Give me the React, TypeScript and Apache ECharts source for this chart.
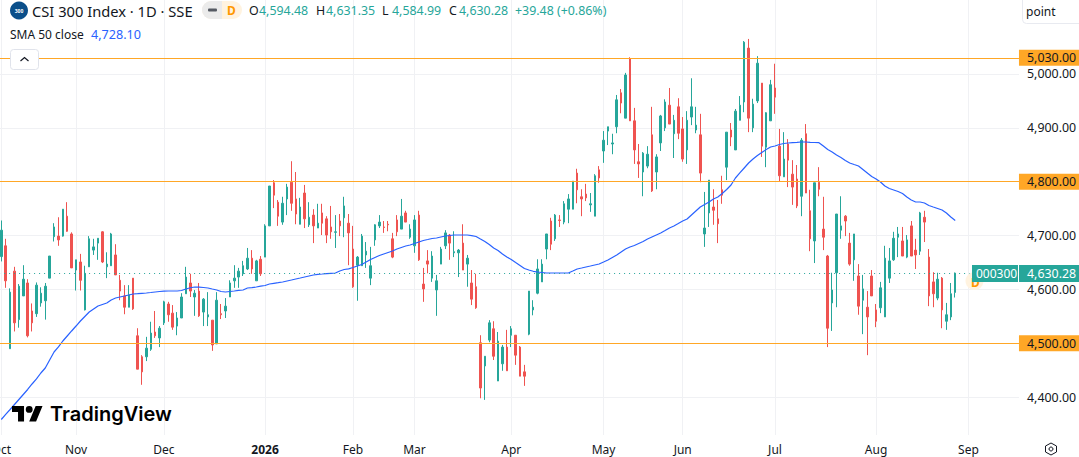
import React, { useEffect, useRef } from "react";
import * as echarts from "echarts";

const opens = [4661,4681,4490,4634,4544,4588,4612,4560,4555,4575,4579,4621,4698,4699,4699,4736,4703,4636,4651,4562,4642,4673,4686,4707,4642,4644,4664,4617,4588,4567,4621,4514,4475,4475,4489,4521,4510,4538,4573,4556,4532,4547,4592,4612,4586,4597,4558,4549,4543,4499,4555,4560,4586,4616,4623,4629,4638,4658,4616,4656,4660,
4718,4798,4762,4725,4768,4799,4768,4721,4779,4720,4738,4714,4742,4731,4716,4706,4727,4733,4723,4675,4645,4644,4664,4621,4692,4718,4716,4721,4694,4729,4712,4742,4697,4681,4738,4610,4653,4621,4599,4647,4681,4701,4668,4668,4686,4647,4612,4605,4501,4458,4506,4527,4430,4462,4493,
4515,4515,4493,4447,4517,4562,4593,4614,4675,4727,4694,4729,4725,4749,4749,4816,4772,4777,4757,4736,4822,4857,4894,4870,4902,4965,4918,5028,4913,4837,4818,4829,4887,4818,4872,4900,4942,4889,4939,4898,4859,4920,4896,4887,4703,4742,4753,4731,4785,4827,4896,4859,4914,
4948,5048,4900,4950,4983,4864,4913,4974,4866,4809,4870,4814,4805,4773,4889,4746,4690,4799,4712,4662,4575,4631,4710,4736,4686,4655,4625,4580,4567,4625,4562,4566,4549,4621,4655,4697,4690,4660,4718,4673,4671,4734,4660,4614,4584,4621,4541,4549,4594.48];
const highs = [4728,4694,4602,4642,4610,4645,4619,4574,4613,4604,4612,4662,4723,4734,4749,4762,4706,4655,4666,4644,4699,4694,4695,4708,4669,4705,4684,4627,4608,4608,4621,4528,4478,4512,4540,4560,4532,4579,4577,4571,4558,4593,4642,4629,4599,4612,4584,4595,4543,4595,4573,4584,4617,4645,4640,4653,4677,4673,4655,4662,4721,
4792,4803,4766,4772,4796,4838,4818,4770,4794,4762,4749,4759,4759,4736,4755,4738,4740,4772,4740,4718,4662,4703,4688,4679,4721,4738,4727,4727,4705,4738,4768,4746,4721,4738,4746,4640,4673,4671,4627,4679,4710,4703,4708,4675,4721,4664,4636,4629,4515,4476,4543,4541,4521,4497,4525,
4532,4515,4495,4460,4597,4580,4656,4656,4703,4733,4740,4738,4764,4777,4801,4824,4786,4796,4779,4814,4829,4894,4902,4889,4961,4972,5002,5031,4937,4870,4855,4866,4939,4851,4924,4953,4974,4924,4955,4920,4931,4992,4939,4926,4781,4803,4786,4766,4811,4892,4909,4935,4959,
5061,5065,4954,5033,4983,4929,4989,5019,4898,4892,4879,4840,4831,4881,4907,4785,4798,4827,4772,4664,4631,4740,4773,4738,4705,4703,4647,4627,4597,4636,4573,4614,4681,4677,4707,4716,4716,4701,4727,4694,4744,4746,4675,4632,4631,4623,4575,4612,4631.35];
const lows = [4652,4603,4490,4522,4529,4588,4511,4522,4549,4568,4544,4621,4689,4681,4698,4707,4640,4598,4598,4561,4642,4664,4655,4649,4621,4644,4627,4580,4554,4567,4562,4452,4423,4467,4486,4510,4493,4534,4540,4525,4515,4547,4592,4586,4551,4549,4532,4532,4486,4499,4545,4547,4586,4603,4603,4625,4636,4629,4616,4625,4660,
4718,4751,4718,4720,4738,4746,4721,4721,4714,4716,4686,4714,4701,4686,4694,4677,4699,4697,4645,4603,4579,4644,4640,4608,4681,4714,4705,4708,4658,4699,4712,4725,4694,4668,4653,4577,4630,4614,4551,4647,4675,4655,4660,4623,4636,4605,4571,4564,4398,4395,4502,4469,4430,4449,4449,
4493,4460,4439,4421,4515,4552,4591,4614,4656,4673,4690,4716,4721,4723,4749,4760,4736,4764,4744,4736,4798,4835,4868,4851,4890,4927,4918,4913,4833,4807,4773,4825,4781,4786,4857,4894,4907,4844,4879,4837,4833,4905,4890,4799,4679,4716,4720,4686,4759,4803,4866,4859,4914,
4929,4892,4892,4946,4846,4827,4913,4926,4801,4809,4790,4757,4751,4736,4779,4671,4649,4773,4673,4493,4523,4567,4694,4699,4644,4616,4553,4517,4478,4588,4530,4556,4549,4612,4653,4660,4662,4658,4662,4638,4664,4688,4569,4567,4580,4528,4525,4543,4584.99];
const closes = [4710,4616,4595,4538,4606,4619,4514,4538,4608,4593,4606,4662,4716,4692,4749,4708,4640,4655,4617,4630,4694,4679,4695,4651,4647,4703,4627,4597,4567,4590,4564,4452,4447,4491,4519,4514,4528,4577,4553,4530,4547,4586,4623,4597,4593,4551,4582,4553,4497,4580,4553,4569,4612,4621,4634,4644,4658,4638,4653,4629,4718,
4792,4775,4736,4760,4790,4760,4740,4753,4731,4734,4718,4723,4723,4701,4707,4707,4718,4755,4705,4605,4660,4699,4671,4644,4720,4725,4715,4720,4660,4707,4736,4725,4712,4729,4655,4601,4647,4662,4616,4675,4705,4686,4670,4673,4636,4658,4582,4566,4417,4476,4538,4476,4504,4493,4449,
4527,4478,4439,4439,4597,4567,4638,4647,4703,4684,4738,4728,4759,4768,4801,4785,4768,4770,4759,4811,4807,4877,4902,4872,4952,4946,4998,4913,4859,4833,4853,4851,4783,4846,4922,4948,4907,4914,4890,4842,4914,4939,4905,4816,4714,4803,4747,4722,4775,4892,4883,4931,4942,
5059,4918,4944,5020,4866,4928,4980,4957,4811,4842,4840,4790,4755,4877,4779,4694,4798,4786,4697,4528,4599,4740,4718,4727,4647,4703,4569,4601,4549,4588,4541,4603,4658,4653,4695,4703,4662,4692,4662,4664,4742,4725,4588,4592,4619,4562,4553,4592,4630.28];
const sma50 = [4358.6,4367.9,4377.1,4386.4,4395.7,4405,4414.3,4424.5,4433.8,4444.9,4454.2,4469,4483.9,4493.2,4504.3,4513.6,4522.9,4532.1,4541.4,4549.8,4558.1,4563.7,4569.3,4572.1,4574.8,4580.4,4584.1,4586,4587.8,4589.7,4591.5,4592.1,4592.8,4593.4,4594.3,4595.3,4596.2,4596.7,4597.1,4597.1,4597.1,4598,4600.8,4603.1,4604.5,4604.2,4603.6,4602.7,4600.8,4599,4596.2,4595.3,4596.2,4597.1,4598.4,4599,4602.7,4603.4,4604.5,4606,4607.3,
4610.1,4611.4,4612.5,4613.8,4615.7,4617.5,4619.4,4621.2,4623.1,4625,4626.8,4628.1,4628.7,4629.4,4630,4630.5,4634.2,4637,4638.3,4640.7,4643.5,4646.3,4650.9,4655.6,4659.3,4663,4665.8,4668.6,4671.4,4675.1,4677.9,4680.7,4682.5,4685.3,4688.1,4690.9,4692.7,4694.6,4695.5,4697.4,4699.2,4700.1,4701.1,4701.1,4701.1,4701.1,4699.8,4698.3,4693.6,4689,4683.4,4676.9,4672.3,4665.8,4660.2,
4655.6,4650,4644.5,4638.9,4636.1,4633.7,4632.4,4631.5,4630.5,4630.5,4630.5,4630.5,4630.5,4630.5,4634.2,4638,4639.8,4641.7,4643.5,4645.4,4647.2,4650.9,4654.7,4659.3,4663.9,4669.5,4675.1,4678.8,4681.6,4685.3,4689,4693.6,4697.4,4701.1,4704.8,4709.4,4714.1,4717.8,4722.4,4727.1,4730.8,4738.2,4745.6,4753,4757.7,4762.3,4767.9,4771.6,4778.1,4785.5,4793.9,4806.9,4816.2,
4825.4,4834.7,4842.1,4848.6,4854.2,4859.8,4864.4,4866.3,4869.1,4870.9,4871.8,4872.6,4873.1,4873.7,4873.7,4873.1,4872.8,4872.4,4866.3,4859.8,4855.1,4849.6,4844.9,4839.4,4834.7,4831.9,4829.2,4822.7,4816.2,4809.7,4805,4799.5,4792,4787.4,4784.6,4781.8,4778.1,4771.6,4766,4762.3,4762.3,4760.5,4755.8,4753,4750.3,4747.5,4741.9,4734.5,4728.1];

const monthTicks = [0, 17, 37, 60, 80, 94, 116, 137, 155, 176, 199, 220];
const monthLabels = ["Oct", "Nov", "Dec", "2026", "Feb", "Mar", "Apr", "May", "Jun", "Jul", "Aug", "Sep"];
const priceTicks = [4400, 4500, 4600, 4700, 4800, 4900, 5000];
const priceLabels = [4400, 4600, 4700, 4900, 5000];
const alertLevels = [5030, 4800, 4500];
const lastClose = 4630.28;
const ohlcHeader = [
  { tag: "O", value: "4,594.48" },
  { tag: "H", value: "4,631.35" },
  { tag: "L", value: "4,584.99" },
  { tag: "C", value: "4,630.28" },
];
const changeText = "+39.48 (+0.86%)";
const smaText = "4,728.10";

const SLOTS = 232;
const FONT = '"Noto Sans", sans-serif';
const INK = "#131722";
const UP = "#26a69a";
const DOWN = "#ef5350";
const ORANGE = "#ffa726";
const BLUE = "#2962ff";

const LOGO_D =
  "M14 22H7V11H0V4h14v18zM28 22h-8l7.5-18h8L28 22zM16 8a4 4 0 1 0 8 0a4 4 0 1 0-8 0z";
echarts.graphic.registerShape("tvlogo", echarts.graphic.extendPath(LOGO_D, {}) as any);

const money = (v: number) =>
  v.toLocaleString("en-US", { minimumFractionDigits: 2, maximumFractionDigits: 2 });

function txt(text: string, x: number, y: number, fill: string, size: number, extra: any = {}) {
  return {
    type: "text",
    z: 50,
    style: { text, x, y, fill, fontSize: size, fontFamily: FONT, verticalAlign: "middle", textAlign: "left", ...extra },
  };
}

function buildGraphic() {
  const els: any[] = [];
  // header
  els.push({ type: "circle", z: 50, shape: { cx: 19, cy: 10.5, r: 9 }, style: { fill: "#0b4f8a" } });
  els.push(txt("300", 19, 10.5, "#ffffff", 5, { textAlign: "center", fontWeight: "bold" }));
  els.push(txt("CSI 300 Index · 1D · SSE", 32, 10.5, INK, 14.7));
  els.push({ type: "rect", z: 50, shape: { x: 202, y: 1, width: 40, height: 18, r: 9 }, style: { fill: "#fff3e0" } });
  els.push({ type: "rect", z: 51, shape: { x: 202, y: 1, width: 20, height: 18, r: [9, 0, 0, 9] }, style: { fill: "#ebebeb" } });
  els.push({ type: "rect", z: 52, shape: { x: 208, y: 8.5, width: 9, height: 3, r: 1 }, style: { fill: "#555a63" } });
  els.push(txt("D", 227, 10.5, "#ff9800", 12, { fontWeight: "bold", z: 52 }));
  const xs = [249, 316, 382, 449];
  ohlcHeader.forEach((h, i) => {
    els.push(txt(h.tag, xs[i], 10.5, INK, 12.4));
    els.push(txt(h.value, xs[i] + 10, 10.5, UP, 12.4));
  });
  els.push(txt(changeText, 515, 10.5, UP, 12.4));
  els.push(txt("SMA 50 close", 10, 34.5, INK, 12));
  els.push(txt(smaText, 91, 34.5, BLUE, 12.6));
  // collapse button
  els.push({ type: "rect", z: 50, shape: { x: 10.5, y: 49.5, width: 28, height: 20, r: 3 }, style: { fill: "#ffffff", stroke: "#e0e3eb", lineWidth: 1 } });
  els.push({ type: "polyline", z: 51, shape: { points: [[20.5, 61], [24.5, 57.5], [28.5, 61]] }, style: { stroke: INK, lineWidth: 1.2, fill: "none" } });
  // unit box
  els.push({ type: "rect", z: 50, shape: { x: 1022.5, y: -5, width: 70, height: 28.5, r: 4 }, style: { fill: "#ffffff", stroke: "#e8eaf0", lineWidth: 1 } });
  els.push(txt("point", 1026, 11, INK, 12));
  // last price tags
  els.push({ type: "circle", z: 49, shape: { cx: 974.5, cy: 281, r: 9 }, style: { fill: "#fff3e0" } });
  els.push(txt("D", 971, 282, "#ff9800", 12, { z: 49, fontWeight: "bold" }));
  els.push({ type: "rect", z: 50, shape: { x: 972, y: 265, width: 46, height: 17 }, style: { fill: UP } });
  els.push(txt("000300", 976, 273.5, "#ffffff", 12));
  els.push({ type: "rect", z: 50, shape: { x: 1019, y: 265, width: 60, height: 17 }, style: { fill: UP } });
  els.push(txt(money(lastClose), 1027, 273.5, "#ffffff", 12.4));
  // watermark
  els.push({ type: "tvlogo", z: 50, x: 12, y: 402.5, scaleX: 0.86, scaleY: 0.86, style: { fill: "#000000" } });
  els.push(txt("TradingView", 50, 414, "#000000", 20, { fontWeight: 600, fontFamily: '"Inter", sans-serif' }));
  // settings icon
  els.push({ type: "polygon", z: 50, shape: { points: [[1051, 443], [1056.5, 446], [1056.5, 452], [1051, 455], [1045.5, 452], [1045.5, 446]] }, style: { fill: "none", stroke: INK, lineWidth: 1 } });
  els.push({ type: "circle", z: 50, shape: { cx: 1051, cy: 449, r: 2 }, style: { fill: "none", stroke: INK, lineWidth: 1 } });
  return els;
}

export default function App() {
  const ref = useRef<HTMLDivElement>(null);
  useEffect(() => {
    const chart = echarts.init(ref.current!, undefined, { renderer: "svg" });
    const cats = opens.map((_, i) => String(i));
    const candle = opens.map((o, i) => [o, closes[i], lows[i], highs[i]]);
    chart.setOption({
      animation: false,
      backgroundColor: "#ffffff",
      textStyle: { fontFamily: FONT },
      grid: { left: -0.9, top: 0, width: SLOTS * 4.396, height: 435, containLabel: false, outerBoundsMode: "none" },
      xAxis: [
        {
          type: "category",
          data: cats.concat(Array.from({ length: SLOTS - cats.length }, (_, i) => `x${i}`)),
          show: false,
          boundaryGap: true,
        },
        {
          type: "value",
          min: -0.5,
          max: SLOTS - 0.5,
          position: "bottom",
          axisLine: { show: false },
          axisTick: { show: false, customValues: monthTicks },
          splitLine: { show: true, lineStyle: { color: "#f0f1f4", width: 1 } },
          axisLabel: {
            show: true,
            customValues: monthTicks,
            margin: 8,
            fontSize: 12,
            fontFamily: FONT,
            color: INK,
            formatter: (v: number) => {
              const s = monthLabels[monthTicks.indexOf(v)] ?? "";
              return s === "2026" ? `{b|${s}}` : s;
            },
            rich: { b: { fontWeight: "bold", fontSize: 12, fontFamily: FONT, color: INK } },
          },
        },
      ],
      yAxis: {
        type: "value",
        position: "right",
        min: 4329.8,
        max: 5137.3,
        axisLine: { show: false },
        axisTick: { show: false, customValues: priceTicks },
        splitLine: { show: true, lineStyle: { color: "#f0f1f4", width: 1 } },
        axisLabel: {
          show: true,
          customValues: priceLabels,
          margin: 8,
          fontSize: 12.4,
          fontFamily: FONT,
          color: INK,
          padding: [0, 0, 4, 0],
          formatter: (v: number) => money(v),
        },
      },
      series: [
        {
          type: "candlestick",
          xAxisIndex: 0,
          data: candle,
          barWidth: 2,
          itemStyle: { color: UP, color0: DOWN, borderColor: UP, borderColor0: DOWN, borderWidth: 1 },
          markLine: {
            silent: true,
            symbol: "none",
            animation: false,
            data: [
              ...alertLevels.map((v) => ({
                yAxis: v,
                lineStyle: { color: ORANGE, width: 1, type: "solid", opacity: 1 },
                label: {
                  show: true,
                  position: "end",
                  distance: 0,
                  formatter: money(v),
                  backgroundColor: ORANGE,
                  color: INK,
                  fontSize: 12.4,
                  fontFamily: FONT,
                  padding: [2, 5, 2, 8],
                },
              })),
              {
                yAxis: lastClose,
                lineStyle: { color: UP, width: 1, type: [1, 4], opacity: 1 },
                label: { show: false },
              },
            ],
          },
        },
        {
          type: "line",
          xAxisIndex: 0,
          data: sma50,
          symbol: "none",
          smooth: false,
          lineStyle: { color: BLUE, width: 1.2 },
          z: 3,
        },
      ],
      graphic: { elements: buildGraphic() },
    });
    return () => chart.dispose();
  }, []);
  return (
    <div
      ref={ref}
      style={{ position: "absolute", left: 0, top: 0, width: 1079, height: 457, overflow: "hidden" }}
    />
  );
}
